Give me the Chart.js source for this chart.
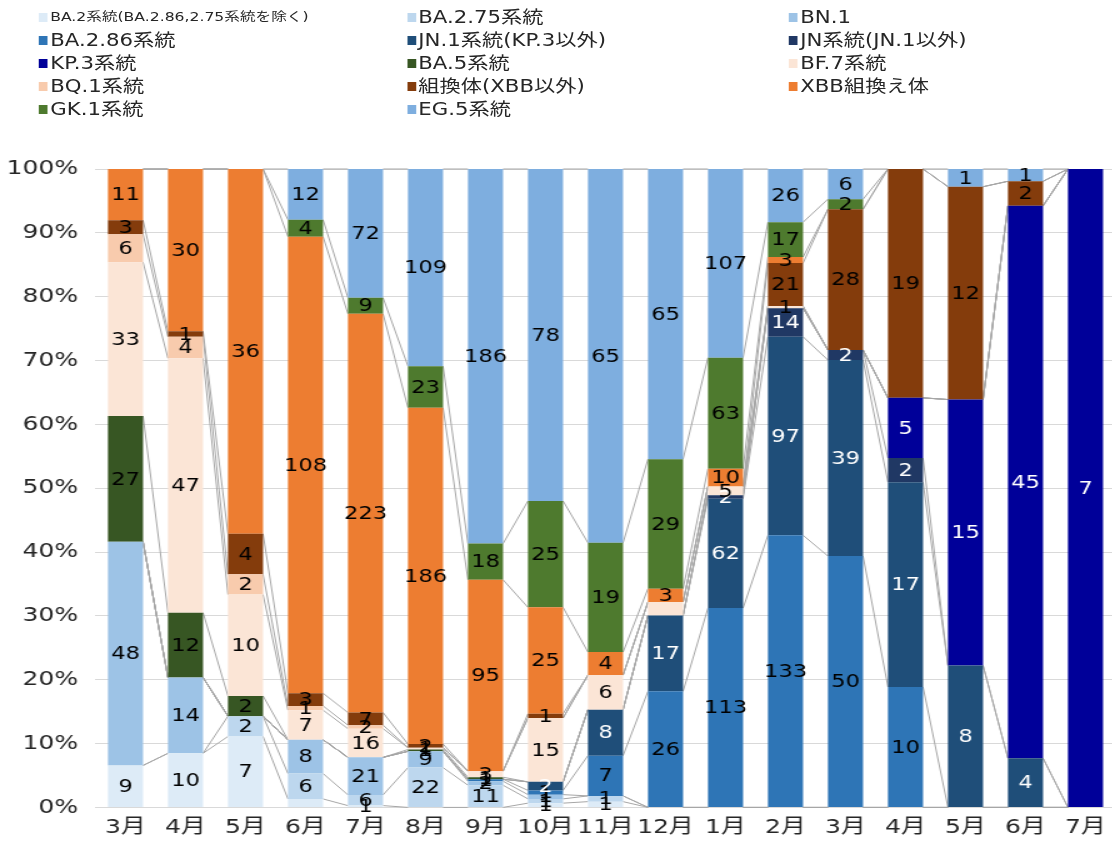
<!DOCTYPE html>
<html><head><meta charset="utf-8">
<script src="https://cdn.jsdelivr.net/npm/chart.js@4/dist/chart.umd.min.js"></script>
<style>
html,body{margin:0;padding:0;background:#fff;overflow:hidden;width:1112px;height:855px;}
#wrap{position:absolute;left:0;top:0;width:896px;height:855px;transform:scaleX(1.25);transform-origin:0 0;}
#legend{position:absolute;left:0;top:0;width:896px;height:125px;font-family:"DejaVu Sans","Noto Sans CJK JP",sans-serif;color:#262626;z-index:2;}
.li{position:absolute;display:flex;align-items:center;white-space:nowrap;font-size:17px;height:22px;line-height:22px;}
.li.small{font-size:12.5px;}
.sw{width:7px;height:9px;margin-right:2px;flex:none;}
canvas{position:absolute;left:0;top:0;}
</style></head>
<body>
<div id="wrap"><canvas id="c" width="896" height="855"></canvas><div id="legend"></div></div>
<script>
// categories
const months = ['3月','4月','5月','6月','7月','8月','9月','10月','11月','12月','1月','2月','3月','4月','5月','6月','7月'];
// series values (counts)
const ba2     = [9,10,7,2,1,0,0,1,1,0,0,0,0,0,0,0,0];
const ba275   = [0,0,2,6,6,22,11,1,1,0,0,0,0,0,0,0,0];
const bn1     = [48,14,0,8,21,9,2,1,0,0,0,0,0,0,0,0,0];
const ba286   = [0,0,0,0,0,0,1,1,7,26,113,133,50,10,0,0,0];
const jn1     = [0,0,0,0,0,0,0,2,8,17,62,97,39,17,8,4,0];
const jnOther = [0,0,0,0,0,0,0,0,0,0,2,14,2,2,0,0,0];
const kp3     = [0,0,0,0,0,0,0,0,0,0,0,0,0,5,15,45,7];
const ba5     = [27,12,2,0,0,1,1,0,0,0,0,0,0,0,0,0,0];
const bf7     = [33,47,10,7,16,1,3,15,6,3,5,1,0,0,0,0,0];
const bq1     = [6,4,2,1,2,0,0,0,0,0,0,0,0,0,0,0,0];
const recomb  = [3,1,4,3,7,2,0,1,0,0,0,21,28,19,12,2,0];
const xbb     = [11,30,36,108,223,186,95,25,4,3,10,3,0,0,0,0,0];
const gk1     = [0,0,0,4,9,23,18,25,19,29,63,17,2,0,0,0,0];
const eg5     = [0,0,0,12,72,109,186,78,65,65,107,26,6,0,1,1,0];

const seriesNames = ['BA.2系統(BA.2.86,2.75系統を除く)','BA.2.75系統','BN.1','BA.2.86系統','JN.1系統(KP.3以外)','JN系統(JN.1以外)','KP.3系統','BA.5系統','BF.7系統','BQ.1系統','組換体(XBB以外)','XBB組換え体','GK.1系統','EG.5系統'];
const seriesValues = [ba2,ba275,bn1,ba286,jn1,jnOther,kp3,ba5,bf7,bq1,recomb,xbb,gk1,eg5];
const seriesColors = ['#DDEBF7','#BDD7EE','#9DC3E6','#2E75B6','#1F4E79','#203864','#000099','#375623','#FBE5D6','#F8CBAD','#843C0C','#ED7D31','#4E7A2E','#7EAEDF'];
const labelColors  = ['#000','#000','#000','#000','#fff','#fff','#fff','#000','#000','#000','#000','#000','#000','#000'];
// [series index, month index] whose data label is not shown in the original
const hiddenLabels = [[0,3],[8,9]];
const yTicks = [0,10,20,30,40,50,60,70,80,90,100];

const totals = months.map((m,i)=>seriesValues.reduce((s,arr)=>s+arr[i],0));
const FONT = '"DejaVu Sans","Noto Sans CJK JP",sans-serif';

// legend (3 columns, row-major)
const leg = document.getElementById('legend');
const colX = [31.2, 325.6, 631.2];
const rowY = [17, 40, 63, 86, 109];
seriesNames.forEach((n,k)=>{
  const r = Math.floor(k/3), c = k%3;
  const d = document.createElement('div');
  d.className = 'li' + (k===0 ? ' small' : '');
  d.style.left = colX[c] + 'px';
  d.style.top = (rowY[r]-11) + 'px';
  d.innerHTML = '<span class="sw" style="background:'+seriesColors[k]+'"></span><span>'+n+'</span>';
  leg.appendChild(d);
});

const seriesLines = {
  id:'seriesLines',
  beforeDatasetsDraw(chart){
    const ctx = chart.ctx;
    ctx.save();
    ctx.strokeStyle = '#A6A6A6';
    ctx.lineWidth = 1;
    chart.data.datasets.forEach((ds,d)=>{
      const meta = chart.getDatasetMeta(d);
      for(let i=0;i<meta.data.length-1;i++){
        const a = meta.data[i], b = meta.data[i+1];
        ctx.beginPath();
        ctx.moveTo(a.x + a.width/2, a.y);
        ctx.lineTo(b.x - b.width/2, b.y);
        ctx.stroke();
      }
    });
    ctx.restore();
  }
};

const dataLabels = {
  id:'dataLabels',
  afterDatasetsDraw(chart){
    const ctx = chart.ctx;
    ctx.save();
    ctx.font = '18px ' + FONT;
    ctx.textAlign = 'center';
    ctx.textBaseline = 'middle';
    chart.data.datasets.forEach((ds,d)=>{
      const meta = chart.getDatasetMeta(d);
      seriesValues[d].forEach((v,i)=>{
        if(!v) return;
        if(hiddenLabels.some(h=>h[0]===d && h[1]===i)) return;
        const el = meta.data[i];
        ctx.fillStyle = labelColors[d];
        ctx.fillText(String(v), el.x, (el.y + el.base)/2 + 1);
      });
    });
    ctx.restore();
  }
};

new Chart(document.getElementById('c'), {
  type:'bar',
  data:{
    labels: months,
    datasets: seriesNames.map((n,k)=>({
      label:n,
      data: seriesValues[k].map((v,i)=>v/totals[i]*100),
      backgroundColor: seriesColors[k],
      borderWidth:0,
      barPercentage:0.585,
      categoryPercentage:1
    }))
  },
  options:{
    responsive:false,
    animation:false,
    devicePixelRatio:1,
    layout:{padding:{top:169,right:3.6,bottom:7.6,left:0}},
    plugins:{legend:{display:false},tooltip:{enabled:false}},
    scales:{
      x:{
        stacked:true,
        grid:{display:false,drawTicks:false},
        border:{display:false},
        ticks:{font:{size:20,family:FONT},color:'#262626',padding:8,maxRotation:0,autoSkip:false}
      },
      y:{
        stacked:true,
        min:0,max:100,
        afterBuildTicks:(s)=>{ s.ticks = yTicks.map(v=>({value:v})); },
        afterFit:(s)=>{ s.width = 76.4; },
        grid:{color:'#D9D9D9',lineWidth:1,drawTicks:false},
        border:{display:false},
        ticks:{font:{size:20,family:FONT},color:'#262626',padding:14,callback:(v)=>v+'%'}
      }
    }
  },
  plugins:[seriesLines,dataLabels]
});
</script>
</body></html>
